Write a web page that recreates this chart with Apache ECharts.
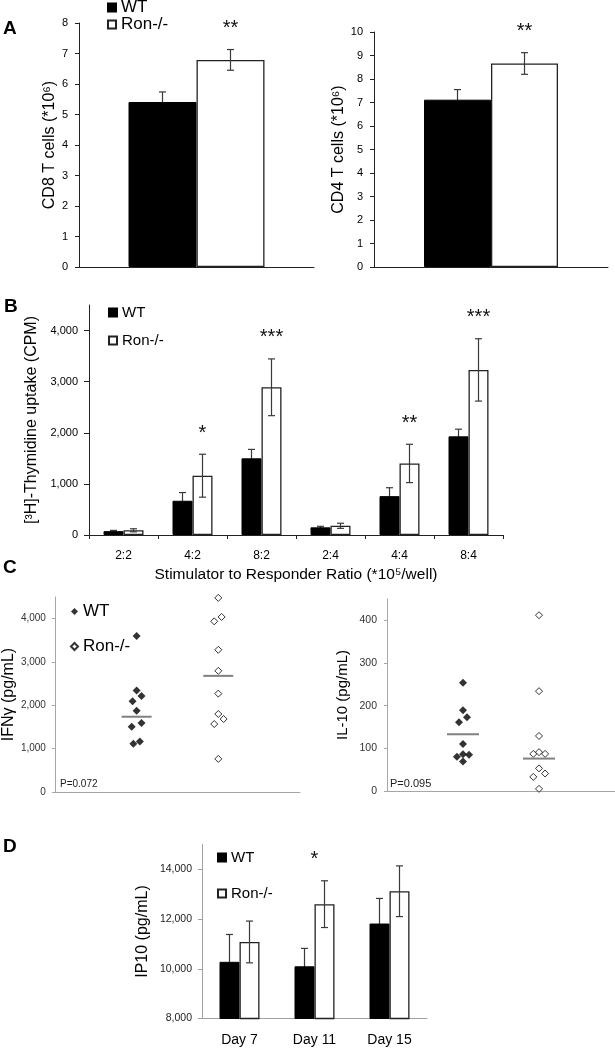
<!DOCTYPE html>
<html><head><meta charset="utf-8">
<script src="https://cdn.jsdelivr.net/npm/echarts@6/dist/echarts.min.js"></script>
<style>html,body{margin:0;padding:0;background:#fff}#c{width:615px;height:1050px}</style>
</head><body><div id="c"></div>
<script>
// ---------- DATA ----------
// Panel A
const catA = [''];
const cd8WT = [5.41], cd8WTErr = [0.33];
const cd8Ron = [6.79], cd8RonErr = [0.34];
const sigCD8 = ['**'];
const cd4WT = [7.12], cd4WTErr = [0.43];
const cd4Ron = [8.66], cd4RonErr = [0.46];
const sigCD4 = ['**'];
const ticksCD8 = [0, 1, 2, 3, 4, 5, 6, 7, 8];
const ticksCD4 = [0, 1, 2, 3, 4, 5, 6, 7, 8, 9, 10];
// Panel B
const ratioCats = ['2:2', '4:2', '8:2', '2:4', '4:4', '8:4'];
const thyWT = [75, 670, 1500, 150, 760, 1930];
const thyWTErr = [15, 160, 175, 20, 165, 140];
const thyRon = [92, 1160, 2890, 180, 1400, 3230];
const thyRonErr = [30, 420, 555, 50, 375, 610];
const sigThy = ['', '*', '***', '', '**', '***'];
const ticksThy = [0, 1000, 2000, 3000, 4000];
// Panel C (x = group position with jitter, y = value)
const ifnWT = [[1, 3600], [1, 2340], [0.95, 2094], [1.06, 2217], [1, 1877], [0.94, 1506], [1.06, 1591], [0.96, 1112], [1.04, 1167]];
const ifnRon = [[2, 4480], [1.95, 3938], [2.04, 4040], [2, 3282], [2, 2796], [2, 2270], [2, 1800], [2.065, 1684], [1.95, 1568], [2, 764]];
const ifnMean = [[1, 1737], [2, 2680]];
const ticksIfn = [0, 1000, 2000, 3000, 4000];
const il10WT = [[1, 254], [1, 189], [0.947, 161], [1.053, 173], [1, 110], [0.92, 80], [1, 86], [1.08, 85], [1, 69]];
const il10Ron = [[2, 412], [2, 234], [2, 129], [1.925, 87], [2, 91], [2.08, 87], [2, 53], [2.08, 41], [1.925, 33], [2, 5]];
const il10Mean = [[1, 133], [2, 76]];
const ticksIl10 = [0, 100, 200, 300, 400];
// Panel D
const dayCats = ['Day 7', 'Day 11', 'Day 15'];
const ipWT = [10280, 10100, 11820];
const ipWTErr = [1100, 720, 1010];
const ipRon = [11080, 12600, 13120];
const ipRonErr = [840, 940, 1020];
const sigIp = ['', '*', ''];
const ticksIp = [8000, 10000, 12000, 14000];

// ---------- HELPERS ----------
const FONT = '"Liberation Sans", Arial, sans-serif';
const fmt = v => Number(v).toLocaleString('en-US');

function barPair(tag, gi, wt, ron, barW) {
  return [
    { type: 'bar', name: 'WT|' + tag, xAxisIndex: gi, yAxisIndex: gi, data: wt, barWidth: barW, barGap: '0%',
      itemStyle: { color: '#000', borderColor: '#000', borderWidth: 1 }, z: 2 },
    { type: 'bar', name: 'Ron-/-|' + tag, xAxisIndex: gi, yAxisIndex: gi, data: ron, barWidth: barW, barGap: '0%',
      itemStyle: { color: '#fff', borderColor: '#222', borderWidth: 1.3 }, z: 2 }
  ];
}
function errSeries(id, gi, vals, errs, side, barW, sig, starCenter, z) {
  return {
    type: 'custom', name: id, xAxisIndex: gi, yAxisIndex: gi, z: z, silent: true,
    encode: { x: 0, y: 1 },
    data: vals.map((v, i) => [i, v, errs[i]]),
    renderItem(params, api) {
      const i = api.value(0), v = api.value(1), e = api.value(2);
      const c = api.coord([i, v]);
      const cx = c[0] + side * barW / 2;
      const yt = api.coord([i, v + e])[1], yb = api.coord([i, v - e])[1];
      const cap = 3.5, st = { stroke: '#3a3a3a', lineWidth: 1.2 };
      const ch = [
        { type: 'line', shape: { x1: cx, y1: yt, x2: cx, y2: yb }, style: st },
        { type: 'line', shape: { x1: cx - cap, y1: yt, x2: cx + cap, y2: yt }, style: st },
        { type: 'line', shape: { x1: cx - cap, y1: yb, x2: cx + cap, y2: yb }, style: st }
      ];
      const s = sig ? sig[params.dataIndex] : '';
      if (s) ch.push({ type: 'text', x: starCenter ? c[0] : cx, y: yt - 21,
        style: { text: s, font: '20px ' + FONT, align: 'center', verticalAlign: 'middle', fill: '#111' } });
      return { type: 'group', children: ch };
    }
  };
}
function meanSeries(id, gi, data, half) {
  return {
    type: 'custom', name: id, xAxisIndex: gi, yAxisIndex: gi, z: 4, silent: true,
    encode: { x: 0, y: 1 }, data,
    renderItem(params, api) {
      const c = api.coord([api.value(0), api.value(1)]);
      return { type: 'line', shape: { x1: c[0] - half, y1: c[1], x2: c[0] + half, y2: c[1] },
        style: { stroke: '#808080', lineWidth: 2 } };
    }
  };
}
function scatterPair(tag, gi, wt, ron) {
  return [
    { type: 'scatter', name: 'WT|' + tag, xAxisIndex: gi, yAxisIndex: gi, data: wt, symbol: 'diamond', symbolSize: 8,
      itemStyle: { color: '#000' }, z: 3 },
    { type: 'scatter', name: 'Ron-/-|' + tag, xAxisIndex: gi, yAxisIndex: gi, data: ron, symbol: 'diamond', symbolSize: 7,
      itemStyle: { color: '#fff', borderColor: '#000', borderWidth: 1 }, z: 3 }
  ];
}
function yAx(gi, min, max, ticks, name, gap, opts) {
  const o = Object.assign({ lineColor: '#222', labelSize: 11, nameSize: 16, margin: 11, tickLen: 4, fmt: fmt, labelFont: FONT, labelColor: '#000' }, opts || {});
  return {
    type: 'value', gridIndex: gi, min, max,
    name, nameLocation: 'middle', nameRotate: 90, nameGap: gap,
    nameTextStyle: { fontFamily: FONT, fontSize: o.nameSize, color: '#000' },
    axisLine: { show: true, lineStyle: { color: o.lineColor, width: 1 } },
    axisTick: { show: true, inside: false, length: o.tickLen, customValues: ticks, lineStyle: { color: o.lineColor } },
    axisLabel: { customValues: ticks, formatter: o.fmt, fontFamily: o.labelFont, fontSize: o.labelSize, color: o.labelColor, margin: o.margin },
    splitLine: { show: false }
  };
}
function legend(tag, left, top, fontSize, gap, size, icon) {
  return {
    data: [{ name: 'WT|' + tag, icon }, { name: 'Ron-/-|' + tag, icon }], orient: 'vertical', left, top, padding: 0,
    itemWidth: size, itemHeight: size, itemGap: gap, selectedMode: false,
    formatter: n => n.split('|')[0],
    textStyle: { fontFamily: FONT, fontSize, color: '#000' }
  };
}

// ---------- OPTION ----------
const option = {
  animation: false,
  backgroundColor: '#fff',
  grid: [
    { left: 79, top: 23, width: 235, height: 244 },
    { left: 374, top: 32, width: 234, height: 235 },
    { left: 89, top: 305, width: 414, height: 230 },
    { left: 52, top: 597, width: 248, height: 195 },
    { left: 387, top: 599, width: 228, height: 192 },
    { left: 202, top: 844.5, width: 225, height: 174 }
  ],
  legend: [
    legend('A', 107, -1, 17, 0, 8, 'rect'),
    legend('B', 108, 305, 15, 13, 8, 'rect'),
    legend('C', 70, 603, 17, 18, 7, 'diamond'),
    legend('D', 217, 850, 15, 21, 8, 'rect')
  ],
  xAxis: [
    { type: 'category', gridIndex: 0, data: catA, axisLine: { lineStyle: { color: '#222' } }, axisTick: { show: false }, axisLabel: { show: false } },
    { type: 'category', gridIndex: 1, data: catA, axisLine: { lineStyle: { color: '#222' } }, axisTick: { show: false }, axisLabel: { show: false } },
    { type: 'category', gridIndex: 2, data: ratioCats, axisLine: { lineStyle: { color: '#222' } },
      axisTick: { show: true, length: 4, lineStyle: { color: '#222' } },
      axisLabel: { fontFamily: FONT, fontSize: 12, color: '#000', margin: 15 },
      name: 'Stimulator to Responder Ratio (*10\u2075/well)', nameLocation: 'middle', nameGap: 32,
      nameTextStyle: { fontFamily: FONT, fontSize: 15.5, color: '#000' } },
    { type: 'value', gridIndex: 3, min: 0, max: 3, axisLine: { show: true, lineStyle: { color: '#a6a6a6' } }, axisTick: { show: false }, axisLabel: { show: false }, splitLine: { show: false } },
    { type: 'value', gridIndex: 4, min: 0, max: 3, axisLine: { show: true, lineStyle: { color: '#a6a6a6' } }, axisTick: { show: false }, axisLabel: { show: false }, splitLine: { show: false } },
    { type: 'category', gridIndex: 5, data: dayCats, axisLine: { lineStyle: { color: '#a0a0a0' } }, axisTick: { show: false },
      axisLabel: { fontFamily: FONT, fontSize: 14, color: '#000', margin: 15 } }
  ],
  yAxis: [
    yAx(0, 0, 8, ticksCD8, 'CD8 T cells (*10\u2076)', 21),
    yAx(1, 0, 10, ticksCD4, 'CD4 T cells (*10\u2076)', 21),
    yAx(2, 0, 4500, ticksThy, '[\u00b3H]-Thymidine uptake (CPM)', 44, { tickLen: 5 }),
    yAx(3, 0, 4500, ticksIfn, 'IFN\u03b3 (pg/mL)', 35, { lineColor: '#a6a6a6', labelSize: 10, margin: 9, tickLen: 3, labelColor: '#333' }),
    yAx(4, 0, 450, ticksIl10, 'IL-10 (pg/mL)', 37, { lineColor: '#a6a6a6', labelSize: 10.5, margin: 10, tickLen: 3, nameSize: 15, labelColor: '#333' }),
    yAx(5, 8000, 15000, ticksIp, 'IP10 (pg/mL)', 51, { lineColor: '#a0a0a0', labelSize: 10.5, margin: 10, tickLen: 4, labelColor: '#222' })
  ],
  series: [
    ...barPair('A', 0, cd8WT, cd8Ron, 68),
    errSeries('eA1w', 0, cd8WT, cd8WTErr, -1, 68, null, false, 1),
    errSeries('eA1r', 0, cd8Ron, cd8RonErr, 1, 68, sigCD8, false, 5),
    ...barPair('A2', 1, cd4WT, cd4Ron, 67),
    errSeries('eA2w', 1, cd4WT, cd4WTErr, -1, 67, null, false, 1),
    errSeries('eA2r', 1, cd4Ron, cd4RonErr, 1, 67, sigCD4, false, 5),
    ...barPair('B', 2, thyWT, thyRon, 20),
    errSeries('eBw', 2, thyWT, thyWTErr, -1, 20, null, false, 1),
    errSeries('eBr', 2, thyRon, thyRonErr, 1, 20, sigThy, false, 5),
    ...scatterPair('C', 3, ifnWT, ifnRon),
    meanSeries('mC1', 3, ifnMean, 15),
    ...scatterPair('C2', 4, il10WT, il10Ron),
    meanSeries('mC2', 4, il10Mean, 16),
    ...barPair('D', 5, ipWT, ipRon, 20),
    errSeries('eDw', 5, ipWT, ipWTErr, -1, 20, null, false, 1),
    errSeries('eDr', 5, ipRon, ipRonErr, 1, 20, sigIp, true, 5)
  ],
  graphic: [
    { type: 'text', left: 3, top: 19, style: { text: 'A', font: 'bold 19px ' + FONT, fill: '#000' } },
    { type: 'text', left: 4, top: 297, style: { text: 'B', font: 'bold 19px ' + FONT, fill: '#000' } },
    { type: 'text', left: 3, top: 558, style: { text: 'C', font: 'bold 19px ' + FONT, fill: '#000' } },
    { type: 'text', left: 3, top: 837, style: { text: 'D', font: 'bold 19px ' + FONT, fill: '#000' } },
    { type: 'text', left: 60, top: 779, style: { text: 'P=0.072', font: '10px ' + FONT, fill: '#222' } },
    { type: 'text', left: 390, top: 778, style: { text: 'P=0.095', font: '11px ' + FONT, fill: '#222' } }
  ]
};
const chart = echarts.init(document.getElementById('c'), null, { renderer: 'canvas' });
chart.setOption(option);
</script></body></html>
